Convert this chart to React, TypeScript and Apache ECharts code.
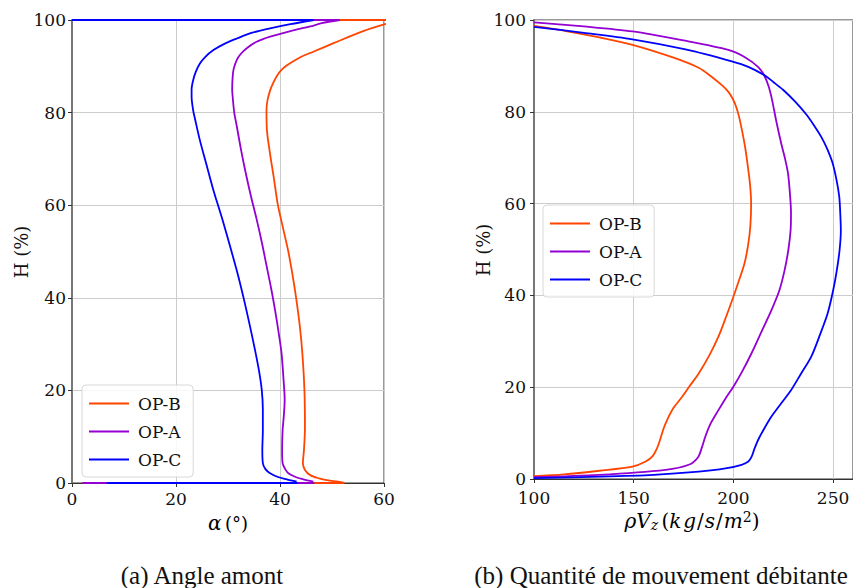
import React, { useEffect, useRef } from "react";
import * as echarts from "echarts";

const SERIES_NAMES = ["OP-B", "OP-A", "OP-C"];
const COLORS = ["#FF4500", "#9400D3", "#0000FF"];

const ALPHA_TICKS = [0, 20, 40, 60];
const H_TICKS = [0, 20, 40, 60, 80, 100];
const RHOVZ_TICKS = [100, 150, 200, 250];

// Left plot: [alpha (deg), H (%)]
const ALPHA_B: number[][] = [
  [63, 99.9], [62, 99.6], [60.2, 99.1], [56, 97.6], [50.3, 95], [46.5, 93.2], [44, 92], [42.4, 91],
  [41.2, 90.1], [40.2, 89.1], [39.4, 87.9], [38.7, 86.4], [38.1, 84.8], [37.6, 82.7], [37.4, 80.5],
  [37.5, 76], [38.1, 71], [38.8, 66], [39.6, 60], [40.6, 55], [41.6, 50], [42.4, 45], [43.1, 40],
  [43.8, 34], [44.3, 28], [44.7, 20], [44.8, 12], [44.6, 7], [44.4, 4.3], [44.8, 2.8], [45.8, 1.7],
  [47.5, 1], [49, 0.6], [52.2, 0.1],
];
const ALPHA_A: number[][] = [
  [51.5, 100], [48, 99.3], [45.8, 98.6], [42, 97.6], [38.1, 96.4], [35.5, 95.3], [33.6, 93.9],
  [32.4, 92.6], [31.7, 91.4], [31.1, 89.5], [30.9, 87.8], [30.8, 85], [30.9, 83.4], [31.2, 80],
  [31.7, 77], [32.5, 72], [33.4, 67], [34.4, 62], [35.5, 57], [36.5, 52], [37.4, 47],
  [38.3, 42], [39.1, 37], [39.8, 32], [40.3, 28], [40.7, 22], [40.9, 18], [40.7, 14],
  [40.5, 11.4], [40.4, 7], [40.5, 4.3], [41, 3], [41.6, 2.1], [43, 1.3], [44.5, 0.8], [46.4, 0.3],
];
const ALPHA_C: number[][] = [
  [46.5, 100], [42, 99.1], [38.1, 98.2], [34.5, 97.2], [31.7, 96], [29.2, 94.8], [27.2, 93.5],
  [25.6, 92], [24.6, 90.6], [23.8, 88.8], [23.3, 87], [23.0, 85], [23.0, 83.4], [23.3, 80.5],
  [23.7, 78.4], [24.6, 74], [25.8, 69], [27.0, 64], [27.8, 61], [28.9, 57], [30.6, 50.3],
  [31.9, 45], [33.1, 39.5], [34.2, 34], [35.2, 28.7], [36.0, 24], [36.5, 20], [36.7, 16],
  [36.7, 11.4], [36.6, 7], [36.7, 4.3], [37.2, 3], [38.1, 2.1], [39.6, 1.3], [41.3, 0.8], [43.2, 0.3],
];
// wall segments (top at H=100, bottom at H=0)
const WALL_TOP: number[][][] = [
  [[63, 100], [0, 100]],
  [[51.5, 100], [0, 100]],
  [[46.5, 100], [0, 100]],
];
const WALL_BOTTOM: number[][][] = [
  [[52.4, 0], [2, 0]],
  [[46.6, 0], [2, 0]],
  [[43.4, 0], [6.7, 0]],
];

// Right plot: [rho*Vz (kg/s/m2), H (%)]
const RHOVZ_B: number[][] = [
  [100, 0.6], [115, 1.0], [132.8, 1.8], [149.4, 2.7], [156, 3.8], [159.5, 5], [161.5, 6.5],
  [163.2, 8.5], [165, 11], [166.8, 12.9], [170, 15.5], [174.3, 17.9], [178, 20.2],
  [182.6, 23], [188, 27], [192.5, 31], [196.5, 35.5], [200, 39.7], [203, 43.5], [205.6, 47],
  [207.4, 51], [208.5, 55], [208.9, 60], [208.4, 64], [207.5, 67.3], [206, 72],
  [204.3, 76], [202.8, 79], [201.3, 81.2], [199.6, 82.9], [197.4, 84.4], [194.5, 85.7],
  [189.2, 87.6], [182.6, 89.6], [169.3, 91.9], [149.4, 94.6], [132.8, 96.2], [116, 97.6], [100, 98.7],
];
const RHOVZ_A: number[][] = [
  [100, 0.4], [132.8, 0.9], [166, 2], [177.6, 3.1], [182.2, 4.7], [184.3, 7], [185.9, 9.2],
  [188.5, 12], [192.5, 15], [196, 17.5], [200, 20.1], [204.5, 23.5], [209.1, 27.4],
  [214, 32], [219.1, 36.8], [223, 41], [225.7, 45.5], [227.6, 50], [228.7, 54.2],
  [228.9, 58], [228.4, 62], [227.4, 66.6], [225.8, 70], [224, 73.1], [221.5, 78],
  [219.4, 82.6], [217.7, 85.5], [215.6, 87.8], [212.6, 89.7], [205.8, 91.9], [197.5, 93.5],
  [174.3, 95.6], [149.4, 97.5], [125, 98.6], [100, 99.5],
];
const RHOVZ_C: number[][] = [
  [100, 0.2], [132.8, 0.5], [160, 0.9], [182.6, 1.6], [196, 2.3], [204.1, 3.1], [207.5, 3.8],
  [209.1, 4.8], [210.5, 6.5], [212.4, 8.5], [215.5, 11], [219.1, 13.6], [224, 16.5],
  [229, 19.4], [234, 23], [239, 26.6], [243.5, 31.5], [247.3, 36.1], [250, 41],
  [251.9, 45.5], [253.3, 50], [253.9, 54.2], [253.6, 58], [253.1, 61.5], [251.8, 65],
  [249.8, 68.8], [247, 72], [244, 74.6], [240.5, 77], [237, 79.2], [231, 82.2],
  [224.9, 84.8], [220, 86.5], [215.8, 87.9], [207.5, 89.8], [199.2, 91], [176, 93.6],
  [149.4, 95.8], [125, 97.2], [100, 98.5],
];

const LEFT_DATA = [ALPHA_B, ALPHA_A, ALPHA_C];
const RIGHT_DATA = [RHOVZ_B, RHOVZ_A, RHOVZ_C];

const FONT = "DejaVu Serif";

export default function App() {
  const ref = useRef<HTMLDivElement>(null);
  useEffect(() => {
    if (!ref.current) return;
    const chart = echarts.init(ref.current, undefined, { renderer: "svg" });
    const axisCommon = {
      axisLine: { show: true, lineStyle: { color: "#333", width: 1 } },
      axisTick: { show: true, length: 4, lineStyle: { color: "#333", width: 1 } },
      axisLabel: { color: "#111", fontFamily: FONT, fontSize: 17, lineHeight: 14 },
      splitLine: { show: true, lineStyle: { color: "#cccccc", width: 1 } },
    };
    const yAxisLine = { show: true, lineStyle: { color: "#777", width: 2 } };
    const series: any[] = [];
    for (let i = 0; i < 3; i++) {
      const ls = { color: COLORS[i], width: 1.8 };
      series.push({
        name: SERIES_NAMES[i], type: "line", xAxisIndex: 0, yAxisIndex: 0,
        data: LEFT_DATA[i], symbol: "none", smooth: 0.3, lineStyle: ls, itemStyle: { color: COLORS[i] },
        z: 2 + i,
      });
      series.push({
        name: "top" + i, type: "line", xAxisIndex: 0, yAxisIndex: 0,
        data: WALL_TOP[i], symbol: "none", lineStyle: ls, itemStyle: { color: COLORS[i] }, z: 2 + i,
      });
      series.push({
        name: "bottom" + i, type: "line", xAxisIndex: 0, yAxisIndex: 0,
        data: WALL_BOTTOM[i], symbol: "none", lineStyle: ls, itemStyle: { color: COLORS[i] }, z: 2 + i,
      });
      series.push({
        name: SERIES_NAMES[i], type: "line", xAxisIndex: 1, yAxisIndex: 1,
        data: RIGHT_DATA[i], symbol: "none", smooth: 0.3, lineStyle: ls, itemStyle: { color: COLORS[i] },
        z: 2 + i,
      });
    }
    const legendCommon = {
      data: SERIES_NAMES.map((n) => ({ name: n, icon: "rect" })),
      orient: "vertical",
      itemWidth: 40,
      itemHeight: 2,
      itemGap: 9,
      padding: [9, 12, 8, 7],
      backgroundColor: "rgba(255,255,255,0.85)",
      borderColor: "#d8d8d8",
      borderWidth: 1,
      borderRadius: 4,
      selectedMode: false,
      textStyle: { fontFamily: FONT, fontSize: 17, color: "#111", padding: [0, 0, 0, 4], lineHeight: 19 },
    };
    const txt = (text: string, x: number, y: number, extra: any = {}) => ({
      type: "text", x, y, ...extra,
      style: { text, align: "center", verticalAlign: "middle", fill: "#111", font: "18px 'DejaVu Serif', serif", ...(extra.style || {}) },
    });
    const rhoRich = {
      i: { fontFamily: FONT, fontStyle: "italic", fontSize: 20, color: "#111" },
      n: { fontFamily: FONT, fontSize: 20, color: "#111" },
      sl: { fontFamily: FONT, fontSize: 20, color: "#111", padding: [0, 1, 0, 1] },
      k: { fontFamily: FONT, fontStyle: "italic", fontSize: 20, color: "#111", padding: [0, 2, 0, 0] },
      sub: { fontFamily: FONT, fontStyle: "italic", fontSize: 14, verticalAlign: "bottom", padding: [8, 0, 0, 0], color: "#111" },
      sup: { fontFamily: FONT, fontSize: 14, verticalAlign: "top", padding: [0, 0, 8, 0], color: "#111" },
    };
    const option: any = {
      animation: false,
      textStyle: { fontFamily: FONT },
      grid: [
        { left: 72, top: 20, width: 312, height: 463, show: true, borderColor: "#333", borderWidth: 1, backgroundColor: "transparent" },
        { left: 534, top: 20, width: 321.6, height: 459, show: true, borderColor: "#333", borderWidth: 1, backgroundColor: "transparent" },
      ],
      xAxis: [
        { type: "value", gridIndex: 0, min: ALPHA_TICKS[0], max: ALPHA_TICKS[ALPHA_TICKS.length - 1], interval: 20, ...axisCommon,
          axisLabel: { ...axisCommon.axisLabel, margin: 9 } },
        { type: "value", gridIndex: 1, min: RHOVZ_TICKS[0], max: 260, interval: 50, ...axisCommon,
          axisLabel: { ...axisCommon.axisLabel, margin: 12, showMaxLabel: false } },
      ],
      yAxis: [
        { type: "value", gridIndex: 0, min: H_TICKS[0], max: H_TICKS[H_TICKS.length - 1], interval: 20, ...axisCommon,
          axisLine: yAxisLine, axisLabel: { ...axisCommon.axisLabel, margin: 6 } },
        { type: "value", gridIndex: 1, min: H_TICKS[0], max: H_TICKS[H_TICKS.length - 1], interval: 20, ...axisCommon,
          axisLine: yAxisLine, axisLabel: { ...axisCommon.axisLabel, margin: 8 } },
      ],
      legend: [
        { ...legendCommon, left: 82, top: 385 },
        { ...legendCommon, left: 543, top: 205 },
      ],
      series,
      graphic: [
        txt("H (%)", 21, 252, { rotation: Math.PI / 2 }),
        txt("H (%)", 483, 250, { rotation: Math.PI / 2 }),
        {
          type: "text", x: 228, y: 523,
          style: {
            text: "{i|α} {n|(°)}", align: "center", verticalAlign: "middle",
            rich: { i: { ...rhoRich.i, fontSize: 20 }, n: { ...rhoRich.n, fontSize: 18 } },
          },
        },
        {
          type: "text", x: 692, y: 521,
          style: {
            text: "{i|ρV}{sub|z} {n|(}{k|k}{i|g}{sl|/}{i|s}{sl|/}{i|m}{sup|2}{n|)}",
            align: "center", verticalAlign: "middle", rich: rhoRich,
          },
        },
        txt("(a) Angle amont", 202, 575, { style: { font: "25px 'Liberation Serif', serif" } }),
        txt("(b) Quantité de mouvement débitante", 661, 575, { style: { font: "25px 'Liberation Serif', serif" } }),
      ],
    };
    chart.setOption(option);
    return () => chart.dispose();
  }, []);
  return (
    <div
      ref={ref}
      style={{ position: "fixed", left: 0, top: 0, width: 853, height: 588, background: "#fff" }}
    />
  );
}
